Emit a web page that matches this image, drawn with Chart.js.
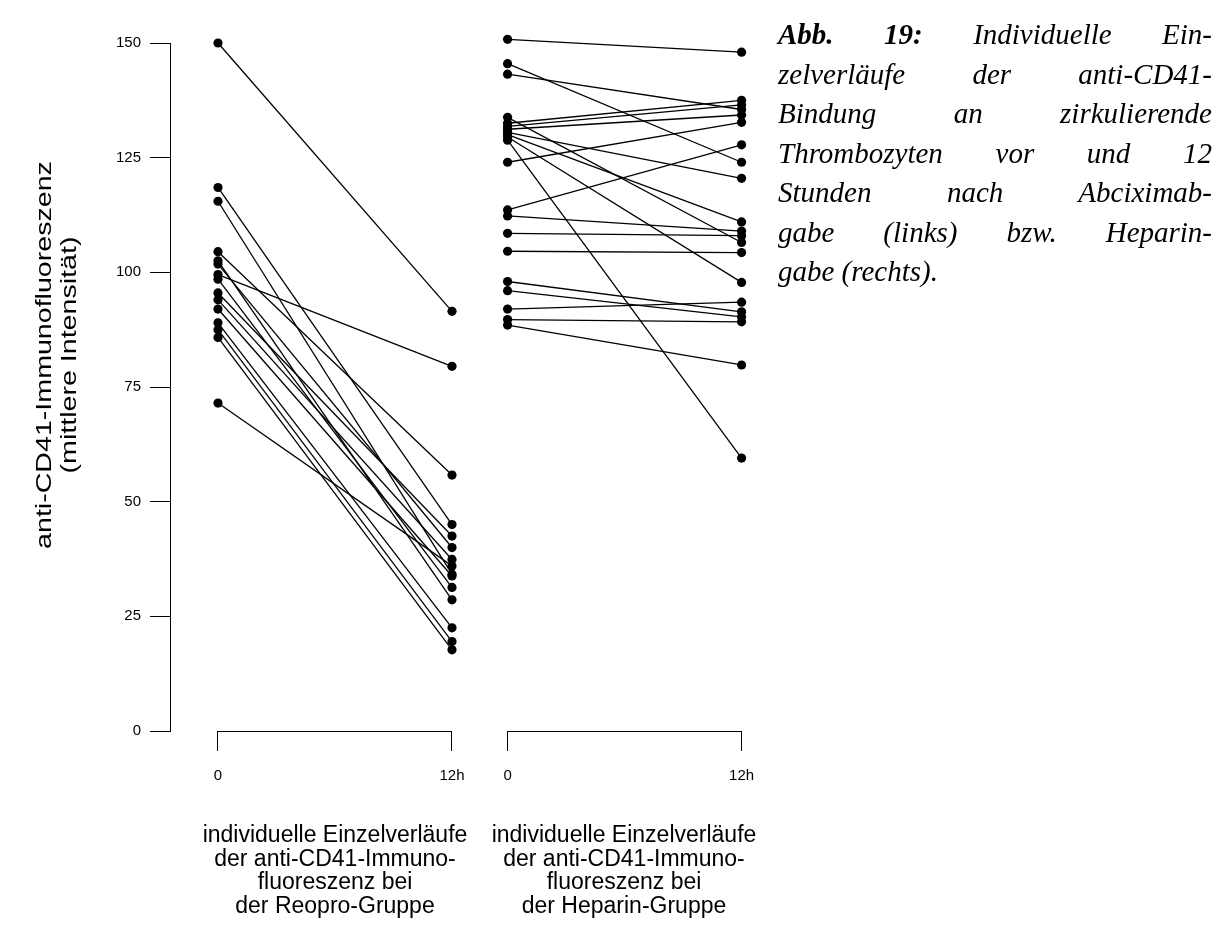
<!DOCTYPE html>
<html>
<head>
<meta charset="utf-8">
<script src="https://cdn.jsdelivr.net/npm/chart.js@4.4.1/dist/chart.umd.min.js"></script>
<style>
  body { margin: 0; background: #fff; width: 1227px; height: 926px; position: relative; overflow: hidden; }
  #plot { position: absolute; left: 0; top: 0; }
  .ytitle { position: absolute; top: 355px; white-space: nowrap; color: #000;
            font-family: "Liberation Sans", Arial, sans-serif; font-size: 22px; line-height: 22px;
            transform: translate(-50%, -50%) rotate(-90deg) scaleX(1.3); }
  .group { position: absolute; top: 823px; width: 320px; text-align: center; color: #000;
           font-family: "Liberation Sans", Arial, sans-serif; font-size: 23px; line-height: 23.6px; }
  #caption { position: absolute; left: 778px; top: 15px; width: 434px; color: #000;
             font-family: "Liberation Serif", "Times New Roman", serif; font-style: italic;
             font-size: 29px; line-height: 39.5px; }
  #caption div { text-align: justify; text-align-last: justify; }
  #caption div.last { text-align-last: left; }
</style>
</head>
<body>
<canvas id="plot" width="780" height="926"></canvas>

<div class="ytitle" style="left:44px">anti-CD41-Immunofluoreszenz</div>
<div class="ytitle" style="left:69px">(mittlere Intensität)</div>

<div class="group" style="left:175px">individuelle Einzelverläufe<br>der anti-CD41-Immuno-<br>fluoreszenz bei<br>der Reopro-Gruppe</div>
<div class="group" style="left:464px">individuelle Einzelverläufe<br>der anti-CD41-Immuno-<br>fluoreszenz bei<br>der Heparin-Gruppe</div>

<div id="caption">
  <div><b>Abb. 19:</b> Individuelle Ein-</div>
  <div>zelverläufe der anti-CD41-</div>
  <div>Bindung an zirkulierende</div>
  <div>Thrombozyten vor und 12</div>
  <div>Stunden nach Abciximab-</div>
  <div>gabe (links) bzw. Heparin-</div>
  <div class="last">gabe (rechts).</div>
</div>

<script>
// measurement times (h) and their axis labels
const hours = [0, 12];
const timeLabels = ["0", "12h"];

// anti-CD41 fluorescence per patient, before and 12 h after
const reoproStart = [150, 118.5, 115.5, 104.5, 102.5, 101.8, 99.5, 98.5, 95.5, 94, 92, 89, 87.5, 85.8, 71.5];
const reoproEnd   = [91.5, 45, 34.2, 55.8, 28.6, 40, 79.5, 31.3, 42.5, 37.4, 33.8, 22.5, 19.5, 17.7, 36];

const heparinStart = [150.8, 145.5, 143.2, 133.8, 132.5, 131.8, 131.2, 130.5, 130, 129.5, 128.8,
                      124, 113.6, 112.3, 108.5, 104.6, 98, 96, 92, 89.7, 88.5];
const heparinEnd   = [148, 124, 135.5, 106.5, 137.5, 136.5, 134.3, 120.5, 111, 97.8, 59.5,
                      132.7, 127.8, 109, 108, 104.3, 91.4, 90.3, 93.5, 89.2, 79.8];

const yMin = 0, yMax = 150, yStep = 25;

// second panel sits to the right of the first on the shared x scale
const heparinOffset = 14.85;

function patientLines(start, end, x0) {
  return start.map((v, i) => ({
    data: [{ x: x0 + hours[0], y: v }, { x: x0 + hours[1], y: end[i] }],
    borderColor: "#000",
    backgroundColor: "#000",
    borderWidth: 1.3,
    pointRadius: 4.6,
    pointHoverRadius: 4.6,
    pointBorderWidth: 0,
    clip: false
  }));
}

// horizontal part of the two bottom brackets
const brackets = {
  id: "brackets",
  afterDraw(chart) {
    const { ctx, chartArea } = chart;
    const sx = chart.scales.x;
    ctx.save();
    ctx.strokeStyle = "#000";
    ctx.lineWidth = 1;
    [0, heparinOffset].forEach((x0) => {
      ctx.beginPath();
      ctx.moveTo(sx.getPixelForValue(x0 + hours[0]), chartArea.bottom + 0.5);
      ctx.lineTo(sx.getPixelForValue(x0 + hours[1]), chartArea.bottom + 0.5);
      ctx.stroke();
    });
    ctx.restore();
  }
};

new Chart(document.getElementById("plot"), {
  type: "line",
  data: {
    datasets: [
      ...patientLines(reoproStart, reoproEnd, 0),
      ...patientLines(heparinStart, heparinEnd, heparinOffset)
    ]
  },
  plugins: [brackets],
  options: {
    responsive: false,
    animation: false,
    events: [],
    layout: { padding: { top: 43, right: 10, bottom: 135, left: 0 } },
    plugins: { legend: { display: false }, tooltip: { enabled: false } },
    scales: {
      x: {
        type: "linear",
        min: -2.4615,
        max: 28.308,
        afterFit(scale) { scale.height = 60; },
        afterBuildTicks(scale) {
          scale.ticks = [0, heparinOffset].flatMap((x0) => hours.map((h) => ({ value: x0 + h })));
        },
        border: { display: false },
        grid: { drawOnChartArea: false, drawTicks: true, tickLength: 20, color: "#000", lineWidth: 1 },
        ticks: {
          autoSkip: false,
          maxRotation: 0,
          padding: 16,
          color: "#000",
          font: { family: "Liberation Sans", size: 15 },
          callback: (v, i) => timeLabels[i % 2]
        }
      },
      y: {
        min: yMin,
        max: yMax,
        afterFit(scale) { scale.width = 170; },
        border: { display: true, color: "#000", width: 1 },
        grid: { drawOnChartArea: false, drawTicks: true, tickLength: 20, color: "#000", lineWidth: 1 },
        ticks: {
          stepSize: yStep,
          padding: 9,
          color: "#000",
          font: { family: "Liberation Sans", size: 15 }
        }
      }
    }
  }
});
</script>
</body>
</html>
